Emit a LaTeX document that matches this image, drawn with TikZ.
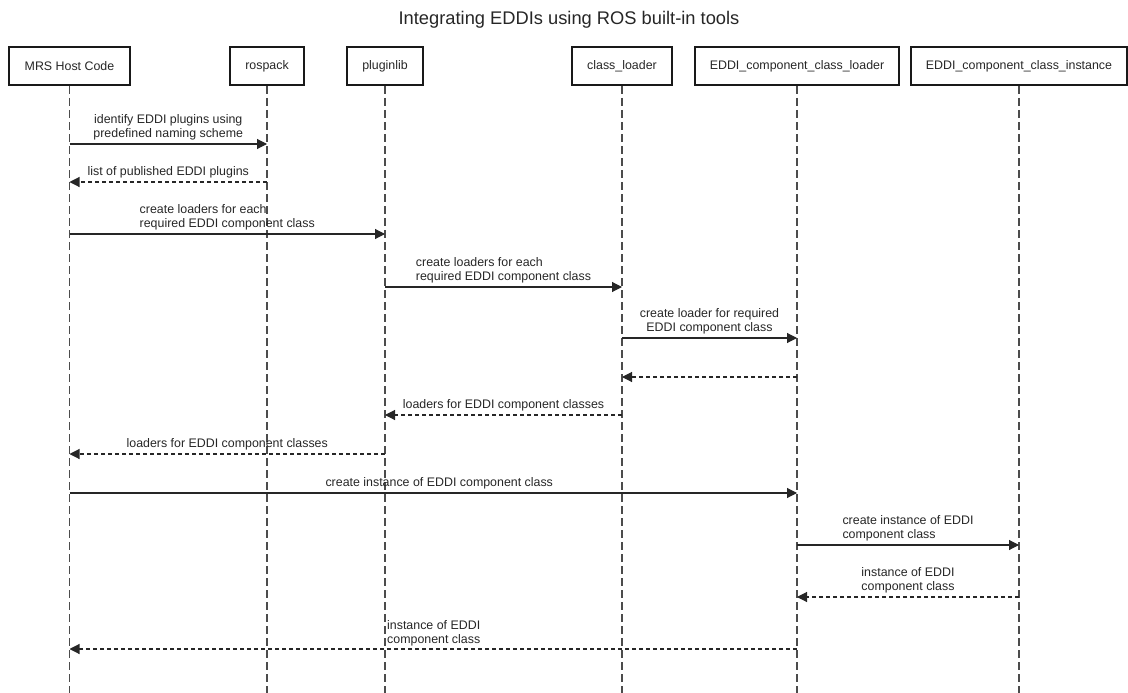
\documentclass[tikz,border=0pt]{standalone}
\usepackage{fontspec}
\setmainfont{Liberation Sans}
\usetikzlibrary{arrows.meta}

\begin{document}
\begin{tikzpicture}[x=1pt,y=-1pt]
\tikzstyle{ActorStyle}=[draw=black!90, line width=2pt, minimum height=38pt, inner sep=0pt, font=\fontsize{12.4}{14}\selectfont, text=black!85]
\tikzstyle{LifeStyle}=[black!70, line width=1.1pt, dash pattern=on 8pt off 4pt]
\tikzstyle{MsgStyle}=[black!85, line width=1.1pt, -{Triangle[length=10pt,width=10pt]}]
\tikzstyle{ReplyStyle}=[MsgStyle, dash pattern=on 4pt off 3pt]
\tikzstyle{TextStyle}=[anchor=south, inner sep=0pt, yshift=3pt, font=\fontsize{12.4}{14}\selectfont, text=black!85]

\useasboundingbox (0,0) rectangle (1128,693);

\node[font=\fontsize{18.3}{20}\selectfont, text=black!85] (title) at (569,20) {Integrating EDDIs using ROS built-in tools};

% actors
\node[ActorStyle, minimum width=121pt] (mrs) at (69.5,66) {MRS Host Code};
\node[ActorStyle, minimum width=74pt] (rospack) at (267,66) {rospack};
\node[ActorStyle, minimum width=76pt] (pluginlib) at (385,66) {pluginlib};
\node[ActorStyle, minimum width=100pt] (classloader) at (622,66) {class\_loader};
\node[ActorStyle, minimum width=204pt] (eddiloader) at (797,66) {EDDI\_component\_class\_loader};
\node[ActorStyle, minimum width=216pt] (eddiinstance) at (1019,66) {EDDI\_component\_class\_instance};

% lifelines
\coordinate (bottom) at (0,693);
\foreach \actor in {mrs,rospack,pluginlib,classloader,eddiloader,eddiinstance}
    \draw[LifeStyle] (\actor.south) -- (\actor.south |- bottom);

% messages
\draw[MsgStyle] (mrs |- 0,144) -- node[TextStyle, align=center] {identify EDDI plugins using\\predefined naming scheme} (rospack |- 0,144);
\draw[ReplyStyle] (rospack |- 0,182) -- node[TextStyle] {list of published EDDI plugins} (mrs |- 0,182);
\draw[MsgStyle] (mrs |- 0,234) -- node[TextStyle, align=left] {create loaders for each\\required EDDI component class} (pluginlib |- 0,234);
\draw[MsgStyle] (pluginlib |- 0,287) -- node[TextStyle, align=left] {create loaders for each\\required EDDI component class} (classloader |- 0,287);
\draw[MsgStyle] (classloader |- 0,338) -- node[TextStyle, align=center] {create loader for required\\EDDI component class} (eddiloader |- 0,338);
\draw[ReplyStyle] (eddiloader |- 0,377) -- (classloader |- 0,377);
\draw[ReplyStyle] (classloader |- 0,415) -- node[TextStyle] {loaders for EDDI component classes} (pluginlib |- 0,415);
\draw[ReplyStyle] (pluginlib |- 0,454) -- node[TextStyle] {loaders for EDDI component classes} (mrs |- 0,454);
\draw[MsgStyle] (mrs |- 0,493) -- node[TextStyle, xshift=6pt] {create instance of EDDI component class} (eddiloader |- 0,493);
\draw[MsgStyle] (eddiloader |- 0,545) -- node[TextStyle, align=left] {create instance of EDDI\\component class} (eddiinstance |- 0,545);
\draw[ReplyStyle] (eddiinstance |- 0,597) -- node[TextStyle, align=center] {instance of EDDI\\component class} (eddiloader |- 0,597);
\draw[ReplyStyle] (eddiloader |- 0,649) -- (mrs |- 0,649);
\node[TextStyle, anchor=south west, align=left, xshift=2pt] (lastlabel) at (pluginlib |- 0,649) {instance of EDDI\\component class};
\end{tikzpicture}
\end{document}
